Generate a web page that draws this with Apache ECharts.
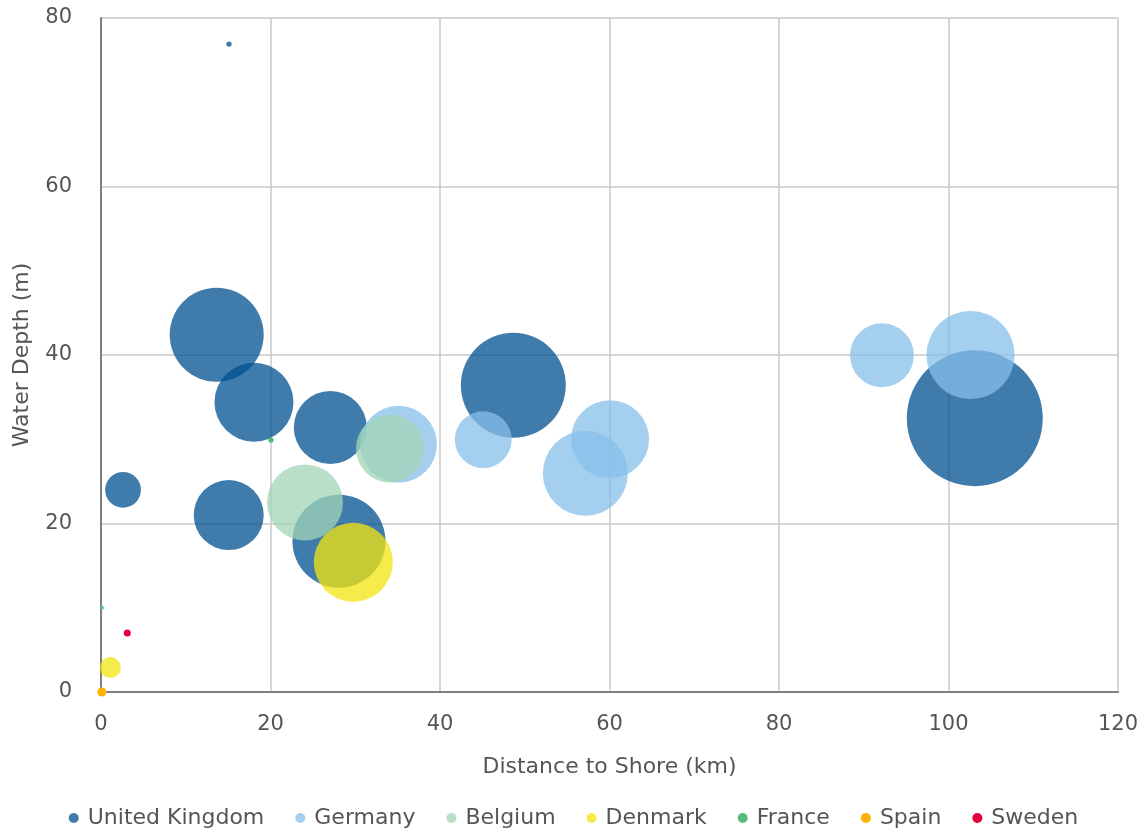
<!DOCTYPE html>
<html>
<head>
<meta charset="utf-8">
<script src="https://cdn.jsdelivr.net/npm/echarts@6/dist/echarts.min.js"></script>
<style>
  html, body { margin: 0; padding: 0; background: #fff; }
</style>
</head>
<body>
<div id="chart" style="width: 1147px; height: 834px;"></div>
<script>
// [distance to shore km, water depth m, capacity]
const countries = ['United Kingdom', 'Germany', 'Belgium', 'Denmark', 'France', 'Spain', 'Sweden'];
const colors = ['#00508f', '#87bfe9', '#a1d4b7', '#f1e40d', '#55bd7a', '#fbb500', '#e4003a'];
const opacities = [0.75, 0.75, 0.75, 0.75, 1, 1, 1];

const ukData = [[15.1, 76.9, 1], [13.65, 42.4, 303], [18.05, 34.4, 214], [27.06, 31.4, 183], [15.07, 21.0, 168],
  [28.08, 17.9, 297], [2.6, 24.0, 44], [48.65, 36.4, 378], [103.1, 32.5, 634]];
const germanyData = [[35.1, 29.4, 203], [45.1, 29.95, 111], [60.06, 30.0, 209], [57.15, 25.96, 248],
  [92.15, 39.97, 140], [102.6, 40.0, 266]];
const belgiumData = [[34.1, 28.9, 159], [24.07, 22.5, 198]];
const denmarkData = [[29.77, 15.4, 214], [1.1, 2.9, 15]];
const franceData = [[20.06, 29.9, 1], [0.1, 10.0, 0.5]];
const spainData = [[0.1, 0.0, 2.8]];
const swedenData = [[3.1, 7.0, 1.7]];

const xTicks = [0, 120, 20]; // min, max, step
const yTicks = [0, 80, 20];

const allData = [ukData, germanyData, belgiumData, denmarkData, franceData, spainData, swedenData];

const chart = echarts.init(document.getElementById('chart'));
const font = 'DejaVu Sans';

const option = {
  animation: false,
  textStyle: { fontFamily: font },
  grid: { left: 101, right: 29, top: 18, bottom: 142, outerBoundsMode: 'none' },
  legend: {
    bottom: 0,
    left: 'center',
    itemWidth: 10,
    itemHeight: 13,
    itemGap: 31,
    icon: 'circle',
    textStyle: { fontSize: 22, color: '#555', fontFamily: font, padding: [0, 0, 0, 4] },
    data: countries
  },
  xAxis: {
    type: 'value',
    min: xTicks[0], max: xTicks[1], interval: xTicks[2],
    name: 'Distance to Shore (km)',
    nameLocation: 'middle',
    nameGap: 64,
    nameTextStyle: { fontSize: 22, color: '#555' },
    axisLine: { lineStyle: { color: '#808080', width: 2 } },
    axisTick: { show: false },
    axisLabel: { fontSize: 21, color: '#555', margin: 22 },
    splitLine: { lineStyle: { color: '#c8c8c8', width: 1.5 } }
  },
  yAxis: {
    type: 'value',
    min: yTicks[0], max: yTicks[1], interval: yTicks[2],
    name: 'Water Depth (m)',
    nameLocation: 'middle',
    nameGap: 68,
    nameTextStyle: { fontSize: 22, color: '#555' },
    axisLine: { show: true, lineStyle: { color: '#808080', width: 2 } },
    axisTick: { show: false },
    axisLabel: { fontSize: 21, color: '#555', margin: 29 },
    splitLine: { lineStyle: { color: '#c8c8c8', width: 1.5 } }
  },
  series: countries.map((name, i) => ({
    name: name,
    type: 'scatter',
    clip: false,
    data: allData[i],
    symbolSize: d => Math.sqrt(d[2]) * 5.4,
    itemStyle: { color: colors[i], opacity: opacities[i] },
    emphasis: { disabled: true }
  }))
};

chart.setOption(option);
</script>
</body>
</html>
